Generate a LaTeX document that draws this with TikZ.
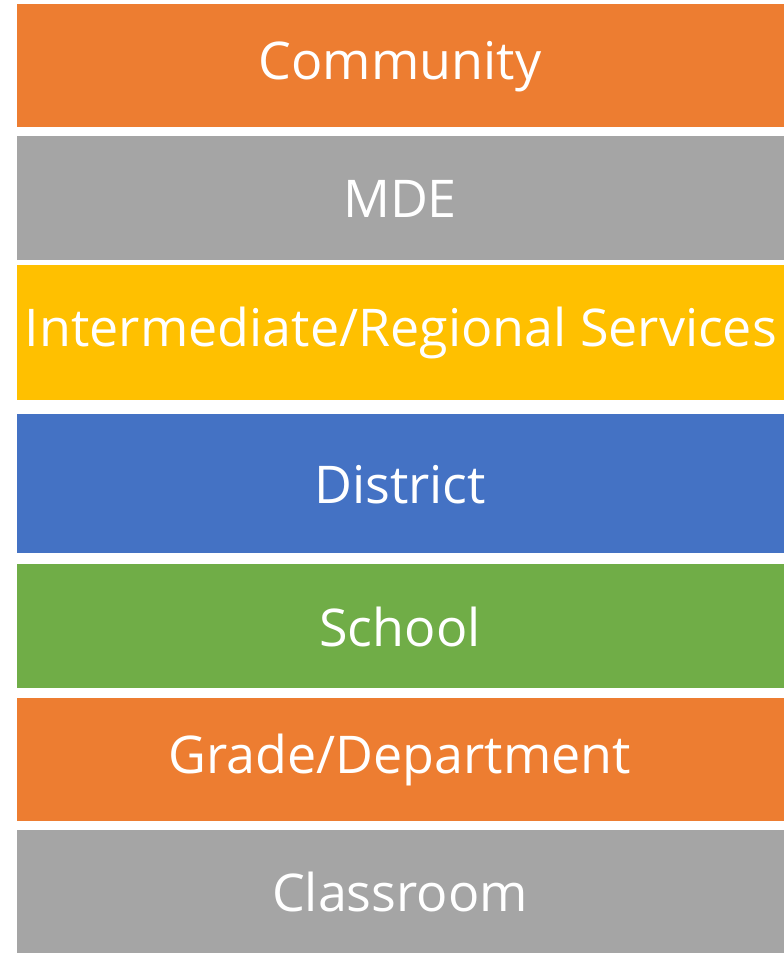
\documentclass[tikz,border=0pt]{standalone}
\usepackage{fontspec}
\setmainfont{Open Sans}
\definecolor{tierorange}{HTML}{ED7D31}
\definecolor{tiergray}{HTML}{A5A5A5}
\definecolor{tieryellow}{HTML}{FFC000}
\definecolor{tierblue}{HTML}{4472C4}
\definecolor{tiergreen}{HTML}{70AD47}
\begin{document}
\begin{tikzpicture}[x=1pt,y=-1pt,
  tier/.style={fill=#1, draw=white, line width=0.8pt},
  tierlabel/.style={text=white, font=\fontsize{52}{60}\selectfont, anchor=center, inner sep=0pt}]
\useasboundingbox[fill=white] (0,0) rectangle (784,953);
% stacked levels, top to bottom
\path[tier=tierorange] (16,3)   rectangle (786,127);
\path[tier=tiergray]   (16,135) rectangle (786,260);
\path[tier=tieryellow] (16,264) rectangle (786,400);
\path[tier=tierblue]   (16,413) rectangle (786,553);
\path[tier=tiergreen]  (16,563) rectangle (786,688);
\path[tier=tierorange] (16,697) rectangle (786,821);
\path[tier=tiergray]   (16,829) rectangle (786,955);
% level names
\node[tierlabel] (community) at (400,67)  {Community};
\node[tierlabel] (mde)       at (400,199) {MDE};
\node[tierlabel] (regional)  at (401,333) {Intermediate/Regional Services};
\node[tierlabel] (district)  at (400,485) {District};
\node[tierlabel] (school)    at (400,627) {School};
\node[tierlabel] (grade)     at (400,760) {Grade/Department};
\node[tierlabel] (classroom) at (400,892) {Classroom};
\end{tikzpicture}
\end{document}
